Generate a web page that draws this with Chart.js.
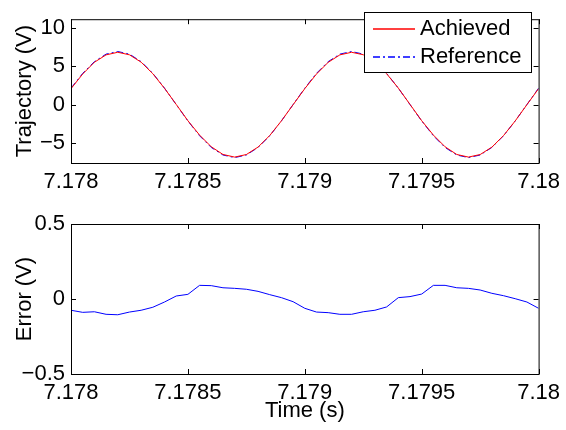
<!DOCTYPE html>
<html>
<head>
<meta charset="utf-8">
<script src="https://cdn.jsdelivr.net/npm/chart.js@4"></script>
<style>
  html, body { margin: 0; padding: 0; background: #fff; }
  #wrap { position: relative; width: 566px; height: 430px; }
  #c1 { position: absolute; left: 0; top: 0; }
  #c2 { position: absolute; left: 0; top: 200px; }
</style>
</head>
<body>
<div id="wrap">
  <canvas id="c1" width="566" height="200"></canvas>
  <canvas id="c2" width="566" height="230"></canvas>
</div>
<script>
// ===== DATA =====
const timeS = [
  7.178, 7.17805, 7.1781, 7.17815, 7.1782, 7.17825, 7.1783, 7.17835, 7.1784, 7.17845,
  7.1785, 7.17855, 7.1786, 7.17865, 7.1787, 7.17875, 7.1788, 7.17885, 7.1789, 7.17895,
  7.179, 7.17905, 7.1791, 7.17915, 7.1792, 7.17925, 7.1793, 7.17935, 7.1794, 7.17945,
  7.1795, 7.17955, 7.1796, 7.17965, 7.1797, 7.17975, 7.1798, 7.17985, 7.1799, 7.17995,
  7.18
];
const referenceV = [
  2.13, 4.06, 5.58, 6.56, 6.90, 6.56, 5.58, 4.06, 2.13, 0.00,
  -2.13, -4.06, -5.58, -6.56, -6.90, -6.56, -5.58, -4.06, -2.13, 0.00,
  2.13, 4.06, 5.58, 6.56, 6.90, 6.56, 5.58, 4.06, 2.13, 0.00,
  -2.13, -4.06, -5.58, -6.56, -6.90, -6.56, -5.58, -4.06, -2.13, 0.00,
  2.13
];
const achievedV = [
  2.06, 3.97, 5.50, 6.46, 6.80, 6.47, 5.51, 4.01, 2.11, 0.02,
  -2.10, -3.97, -5.49, -6.49, -6.83, -6.50, -5.53, -4.03, -2.12, -0.02,
  2.07, 3.97, 5.49, 6.46, 6.80, 6.48, 5.51, 4.01, 2.14, 0.02,
  -2.10, -3.97, -5.49, -6.49, -6.83, -6.50, -5.54, -4.04, -2.13, -0.02,
  2.07
];
const errorV = [
  -0.075, -0.089, -0.085, -0.102, -0.105, -0.087, -0.075, -0.055, -0.020, 0.020,
  0.031, 0.091, 0.089, 0.075, 0.071, 0.065, 0.051, 0.029, 0.009, -0.018,
  -0.062, -0.087, -0.091, -0.102, -0.102, -0.085, -0.075, -0.053, 0.009, 0.016,
  0.033, 0.091, 0.091, 0.075, 0.071, 0.060, 0.038, 0.022, 0.002, -0.020,
  -0.062
];
const xTicks = [7.178, 7.1785, 7.179, 7.1795, 7.18];
const xTickLabels = ['7.178', '7.1785', '7.179', '7.1795', '7.18'];
const trajTicks = [-5, 0, 5, 10];
const trajTickLabels = ['\u22125', '0', '5', '10'];
const errTicks = [-0.5, 0, 0.5];
const errTickLabels = ['\u22120.5', '0', '0.5'];

const RED  = '#ff0000';
const BLUE = '#0000ff';
const REF_DASH = [7, 3, 2, 3];
const FONT = { family: "'Liberation Sans', Arial, sans-serif", size: 22 };

const toPts = arr => arr.map((v, i) => ({ x: timeS[i], y: v }));

// ===== FRAME + INWARD TICKS (matlab style) =====
const frameTicks = {
  id: 'frameTicks',
  afterDatasetsDraw(chart) {
    const { ctx, chartArea: a, scales: { x, y } } = chart;
    ctx.save();
    ctx.strokeStyle = '#000';
    ctx.lineWidth = 1;
    ctx.beginPath();
    x.ticks.forEach(t => {
      const px = Math.round(x.getPixelForValue(t.value)) + 0.5;
      ctx.moveTo(px, a.bottom); ctx.lineTo(px, a.bottom - 5);
      ctx.moveTo(px, a.top);    ctx.lineTo(px, a.top + 5);
    });
    y.ticks.forEach(t => {
      const py = Math.round(y.getPixelForValue(t.value)) + 0.5;
      ctx.moveTo(a.left, py);  ctx.lineTo(a.left + 5, py);
      ctx.moveTo(a.right, py); ctx.lineTo(a.right - 5, py);
    });
    ctx.stroke();
    ctx.strokeRect(a.left + 0.5, a.top + 0.5, a.right - a.left, a.bottom - a.top);
    ctx.restore();
  }
};

// ===== LEGEND BOX (inside plot, top right) =====
const legendItems = [
  { label: 'Achieved',  color: RED,  dash: [] },
  { label: 'Reference', color: BLUE, dash: REF_DASH },
];
const boxLegend = {
  id: 'boxLegend',
  afterDraw(chart) {
    const { ctx } = chart;
    ctx.save();
    ctx.fillStyle = '#fff';
    ctx.fillRect(364, 12, 167, 60);
    ctx.strokeStyle = '#000';
    ctx.lineWidth = 1;
    ctx.strokeRect(364.5, 12.5, 167, 60);
    ctx.font = `${FONT.size}px ${FONT.family}`;
    ctx.textBaseline = 'middle';
    legendItems.forEach((it, i) => {
      const y = 29 + i * 28;
      ctx.strokeStyle = it.color;
      ctx.lineWidth = 1.4;
      ctx.setLineDash(it.dash);
      ctx.beginPath();
      ctx.moveTo(373, y);
      ctx.lineTo(415, y);
      ctx.stroke();
      ctx.setLineDash([]);
      ctx.fillStyle = '#000';
      ctx.fillText(it.label, 420, y);
    });
    ctx.restore();
  }
};

function xAxis(h, withTitle) {
  return {
    type: 'linear',
    min: 7.178,
    max: 7.18,
    afterBuildTicks: s => { s.ticks = xTicks.map(v => ({ value: v })); },
    afterFit: s => { s.height = h; },
    grid: { display: false, drawTicks: false },
    border: { display: false },
    ticks: {
      autoSkip: false, maxRotation: 0, padding: 6, color: '#000', font: FONT,
      callback: (v, i) => xTickLabels[i]
    },
    title: withTitle
      ? { display: true, text: 'Time (s)', color: '#000', font: FONT, padding: { top: 0, bottom: 6 } }
      : { display: false }
  };
}

function yAxis(min, max, ticks, labels, title) {
  return {
    type: 'linear',
    min: min,
    max: max,
    afterBuildTicks: s => { s.ticks = ticks.map(v => ({ value: v })); },
    afterFit: s => { s.width = 71; },
    grid: { display: false, drawTicks: false },
    border: { display: false },
    ticks: {
      autoSkip: false, padding: 6, color: '#000', font: FONT,
      callback: (v, i) => labels[i]
    },
    title: { display: true, text: title, color: '#000', font: FONT, padding: { top: 12, bottom: 0 } }
  };
}

// ===== TOP CHART: Trajectory =====
new Chart(document.getElementById('c1'), {
  type: 'line',
  data: {
    datasets: [
      {
        label: 'Achieved',
        data: toPts(achievedV),
        borderColor: RED,
        borderWidth: 1,
        pointRadius: 0,
        tension: 0,
        order: 0,
      },
      {
        label: 'Reference',
        data: toPts(referenceV),
        borderColor: BLUE,
        borderWidth: 1,
        borderDash: REF_DASH,
        pointRadius: 0,
        tension: 0,
        order: 1,
      },
    ],
  },
  options: {
    responsive: false,
    animation: false,
    layout: { padding: { top: 8, right: 24, left: 0, bottom: 0 } },
    plugins: { legend: { display: false }, tooltip: { enabled: false } },
    scales: {
      x: xAxis(37, false),
      y: yAxis(-7.6, 11.1, trajTicks, trajTickLabels, 'Trajectory (V)'),
    },
  },
  plugins: [frameTicks, boxLegend],
});

// ===== BOTTOM CHART: Error =====
new Chart(document.getElementById('c2'), {
  type: 'line',
  data: {
    datasets: [
      {
        label: 'Error',
        data: toPts(errorV),
        borderColor: BLUE,
        borderWidth: 1,
        pointRadius: 0,
        tension: 0,
      },
    ],
  },
  options: {
    responsive: false,
    animation: false,
    layout: { padding: { top: 24, right: 24, left: 0, bottom: 0 } },
    plugins: { legend: { display: false }, tooltip: { enabled: false } },
    scales: {
      x: xAxis(56, true),
      y: yAxis(-0.5, 0.5, errTicks, errTickLabels, 'Error (V)'),
    },
  },
  plugins: [frameTicks],
});
</script>
</body>
</html>
